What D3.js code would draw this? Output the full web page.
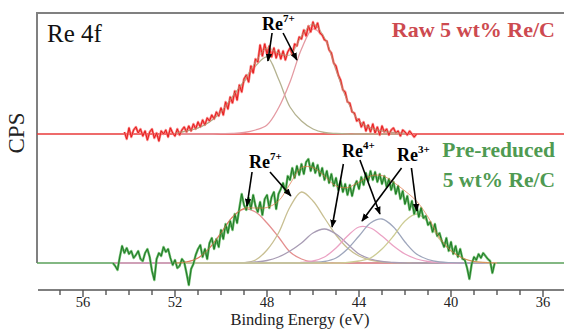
<!DOCTYPE html>
<html><head><meta charset="utf-8">
<script src="https://cdn.jsdelivr.net/npm/d3@7"></script>
<style>body{margin:0;background:#fff}svg{display:block}</style>
</head><body>
<svg id="c" width="564" height="330"></svg>
<script>
// ---------------- DATA ----------------
// Raw 5 wt% Re/C spectrum (counts, arbitrary units above its own baseline), 54.2 eV downwards
const rawStartEV = 54.2, rawStepEV = 0.1;
const rawCPS = [2,-5,6,-3,4,7,1,5,-2,3,-6,2,5,-4,1,-7,3,0,4,-3,6,1,-2,5,-1,4,7,2,8,3,
10,5,12,7,14,9,16,13,19,15,22,18,
26,19,32,25,37,31,43,34,49,42,55,59,52,68,61,75,72,89,78,90,80,88,77,86,76,84,75,83,74,82,
86,79,90,88,97,95,104,98,108,102,112,105,111,101,99,94,93,84,81,71,68,59,54,44,42,32,31,22,21,13,
15,7,12,3,9,2,10,1,7,-1,8,
2,5,-1,4,6,1,3,-2,4,2,-1,3,0,-3,0];
// Pre-reduced 5 wt% Re/C spectrum, 54.7 eV downwards
const redStartEV = 54.7, redStepEV = 0.1;
const redCPS = [0,-3,-7,6,17,10,15,9,12,5,8,12,4,2,10,14,6,-8,-17,4,10,7,16,11,14,5,-2,3,-5,-3,
4,1,-10,-22,-6,-1,8,14,
18,6,14,4,20,25,14,24,16,33,24,39,30,42,33,49,40,55,69,58,53,65,54,68,57,51,61,48,64,68,
55,66,71,54,69,74,80,71,87,83,95,85,97,88,99,89,101,104,92,100,90,98,87,95,83,92,80,89,77,85,
73,82,71,79,68,78,67,77,82,74,86,78,90,82,92,83,91,81,89,79,87,76,84,73,81,69,77,64,72,59,
67,53,62,49,58,46,55,45,47,38,41,31,39,27,30,22,16,25,12,21,9,17,6,14,4,3,-5,-16,-1,6,
3,9,5,10,7,4,2,-10,0];

// Fitted components, raw sample (grid 52.0 -> 42.0 eV, step 0.5)
const rawFitStartEV = 52.0, fitStepEV = 0.5;
const rawRe7_52 = [1,3,6,12,22,37,52,68,77,55,27,13,5,1.5,0.5,0,0,0,0,0,0];      // Re7+ 4f5/2
const rawRe7_72 = [0,0,0,0,0.3,0.6,1.5,4,9,26,52,85,105,95,64,33,13,6,3,1.5,0.5]; // Re7+ 4f7/2

// Fitted components, pre-reduced sample (grid 52.0 -> 38.0 eV, step 0.5)
const redFitStartEV = 52.0;
const redRe7a = [0,1,5,15,30,46,54,51,40,26,11,4,1,0.3,0,0,0,0,0,0,0,0,0,0,0,0,0,0,0];
const redRe7b = [0,0,0,0,0,0,0.3,3,13,30,56,71,62,45,28,15,7,3,1,0.3,0,0,0,0,0,0,0,0,0];
const redRe4a = [0,0,0,0,0,0,0.3,1,2.5,6,12,20,30,34,29,19,9,4,1.5,0.5,0,0,0,0,0,0,0,0,0];
const redRe3a = [0,0,0,0,0,0,0,0,0,0,0,0.5,2,6,15,27,36,35,27,17,9,4,1.5,0.5,0,0,0,0,0];
const redRe4b = [0,0,0,0,0,0,0,0,0,0,0,0,0.5,1.5,5,14,27,40,44,36,21,9,3.5,1,0.3,0,0,0,0];
const redRe3b = [0,0,0,0,0,0,0,0,0,0,0,0,0,0,0,0.5,2,5,14,27,42,49,41,24,12,5,1.5,0.5,0];

const rawOffset = 129;             // vertical offset of the raw spectrum
const xTicksMajor = [56,52,48,44,40,36];
const xTicksMinor = [57,55,54,53,51,50,49,47,46,45,43,42,41,39,38,37];

// annotations (energy, value)
const annotations = [
  {label:"Re", sup:"7+", at:[48.22, rawOffset+104], arrows:[[[47.78,rawOffset+101],[47.96,rawOffset+73]],[[47.30,rawOffset+101],[46.70,rawOffset+74]]]},
  {label:"Re", sup:"7+", at:[48.78, 95], arrows:[[[48.65,91],[48.87,57]],[[47.87,91],[46.96,67]]]},
  {label:"Re", sup:"4+", at:[44.74,106], arrows:[[[44.68,99],[45.17,36]],[[43.96,103],[43.09,49]]]},
  {label:"Re", sup:"3+", at:[42.35,102], arrows:[[[42.15,95],[43.87,42]],[[41.72,95],[41.48,52]]]}
];

// ---------------- CHART ----------------
const svg = d3.select("#c");
const x = d3.scaleLinear().domain([58, 35]).range([37, 566]);
const y = d3.scaleLinear().domain([0, 250]).range([263, 13]);
const serif = "'Liberation Serif','Times New Roman',serif";

const series = (start, step, vals, off) => vals.map((v,i)=>[+(start - i*step).toFixed(2), v + off]);
const line = d3.line().x(d=>x(d[0])).y(d=>y(d[1]));
const smooth = d3.line().x(d=>x(d[0])).y(d=>y(d[1])).curve(d3.curveCatmullRom.alpha(0.5));

svg.append("defs").append("marker").attr("id","ah").attr("viewBox","0 0 10 8")
  .attr("refX",9).attr("refY",4).attr("markerWidth",8).attr("markerHeight",7)
  .attr("markerUnits","userSpaceOnUse").attr("orient","auto")
  .append("path").attr("d","M0,0L10,4L0,8Z").attr("fill","#000");

// frame
svg.append("path").attr("d",`M${x(58)},${y(0)}V${y(250)}H564`)
  .attr("fill","none").attr("stroke","#808080").attr("stroke-width",2);

// ---- Raw spectrum ----
const rawData = series(rawStartEV, rawStepEV, rawCPS, rawOffset);
const rawC1 = series(rawFitStartEV, fitStepEV, rawRe7_52, rawOffset);
const rawC2 = series(rawFitStartEV, fitStepEV, rawRe7_72, rawOffset);
const rawEnv = rawC1.map((d,i)=>[d[0], d[1] + rawRe7_72[i]]);

svg.append("path").datum([[58,rawOffset],[35,rawOffset]]).attr("d",line)
  .attr("stroke","#e83a3a").attr("stroke-width",1.3).attr("fill","none");
svg.append("path").datum(rawC1).attr("d",smooth).attr("fill","none").attr("stroke","#b4b290").attr("stroke-width",1.3);
svg.append("path").datum(rawC2).attr("d",smooth).attr("fill","none").attr("stroke","#e49aa2").attr("stroke-width",1.3);
svg.append("path").datum(rawData).attr("d",line).attr("fill","none").attr("stroke","#f77b7b").attr("stroke-width",2.4).attr("stroke-linejoin","round");
svg.append("path").datum(rawData).attr("d",line).attr("fill","none").attr("stroke","#e61e1e").attr("stroke-width",1).attr("stroke-linejoin","round");
svg.append("path").datum(rawEnv).attr("d",smooth).attr("fill","none").attr("stroke","#a8a27a").attr("stroke-width",0.9).attr("opacity",0.8);

// ---- Pre-reduced spectrum ----
const redData = series(redStartEV, redStepEV, redCPS, 0);
const comps = [
  [redRe7a,"#e48f8f"],[redRe7b,"#c8bf92"],[redRe4a,"#a89cb4"],
  [redRe3a,"#eba2c4"],[redRe4b,"#9ea6bc"],[redRe3b,"#cdcc94"]
];
const redEnv = redRe7a.map((v,i)=>[+(redFitStartEV - i*fitStepEV).toFixed(2), comps.reduce((s,c)=>s+c[0][i],0)]);

svg.append("path").datum([[58,0],[35,0]]).attr("d",line)
  .attr("stroke","#5aa05a").attr("stroke-width",1.3).attr("fill","none");
svg.append("path").datum([[redStartEV,0],[38.1,0]]).attr("d",line)
  .attr("stroke","#e898c8").attr("stroke-width",1.6).attr("fill","none");
comps.forEach(([vals,col])=>{
  svg.append("path").datum(series(redFitStartEV, fitStepEV, vals, 0))
    .attr("d",smooth).attr("fill","none").attr("stroke",col).attr("stroke-width",1.3);
});
svg.append("path").datum(redData).attr("d",line).attr("fill","none").attr("stroke","#6bb86b").attr("stroke-width",2.4).attr("stroke-linejoin","round");
svg.append("path").datum(redData).attr("d",line).attr("fill","none").attr("stroke","#1d7a24").attr("stroke-width",1).attr("stroke-linejoin","round");
svg.append("path").datum(redEnv).attr("d",smooth).attr("fill","none").attr("stroke","#e0703c").attr("stroke-width",0.9).attr("opacity",0.75);

// ---- x axis ----
const ax = svg.append("g").attr("transform",`translate(0,290)`);
ax.append("line").attr("x1",38).attr("x2",564).attr("stroke","#555").attr("stroke-width",1.5);
ax.selectAll(".mj").data(xTicksMajor).join("line").attr("x1",d=>x(d)).attr("x2",d=>x(d))
  .attr("y1",0).attr("y2",7).attr("stroke","#555").attr("stroke-width",1.4);
ax.selectAll(".mn").data(xTicksMinor).join("line").attr("x1",d=>x(d)).attr("x2",d=>x(d))
  .attr("y1",0).attr("y2",5).attr("stroke","#555").attr("stroke-width",1.4);
ax.selectAll("text").data(xTicksMajor).join("text").attr("x",d=>x(d)).attr("y",17)
  .attr("text-anchor","middle").attr("font-family",serif).attr("font-size",14.5).attr("fill","#222").text(d=>d);

svg.append("text").attr("x",300).attr("y",325).attr("text-anchor","middle")
  .attr("font-family",serif).attr("font-size",16.5).attr("fill","#222").text("Binding Energy (eV)");
svg.append("text").attr("transform","translate(24,133) rotate(-90)").attr("text-anchor","middle")
  .attr("font-family",serif).attr("font-size",23).attr("fill","#222").text("CPS");

// titles
svg.append("text").attr("x",47).attr("y",42).attr("font-family",serif).attr("font-size",25).attr("fill","#111").text("Re 4f");
svg.append("text").attr("x",555).attr("y",37).attr("text-anchor","end").attr("font-family",serif)
  .attr("font-weight","bold").attr("font-size",22).attr("fill","#cd4a50").text("Raw 5 wt% Re/C");
svg.append("text").attr("x",555).attr("y",157).attr("text-anchor","end").attr("font-family",serif)
  .attr("font-weight","bold").attr("font-size",21.5).attr("fill","#4f9a52").text("Pre-reduced");
svg.append("text").attr("x",555).attr("y",187).attr("text-anchor","end").attr("font-family",serif)
  .attr("font-weight","bold").attr("font-size",21.5).attr("fill","#4f9a52").text("5 wt% Re/C");

// annotations
annotations.forEach(a=>{
  const t = svg.append("text").attr("x",x(a.at[0])).attr("y",y(a.at[1]))
    .attr("font-family",serif).attr("font-weight","bold").attr("font-size",18).attr("fill","#000");
  t.append("tspan").text(a.label);
  t.append("tspan").attr("dy",-8).attr("font-size",11).text(a.sup);
  a.arrows.forEach(([p0,p1])=>{
    svg.append("line").attr("x1",x(p0[0])).attr("y1",y(p0[1])).attr("x2",x(p1[0])).attr("y2",y(p1[1]))
      .attr("stroke","#000").attr("stroke-width",1.6).attr("marker-end","url(#ah)");
  });
});
</script>
</body></html>
